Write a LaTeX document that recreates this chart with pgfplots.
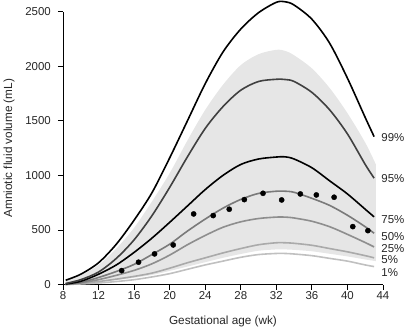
\documentclass[border=0pt]{standalone}
\usepackage{pgfplots}
\pgfplotsset{compat=1.18}
\usepgfplotslibrary{fillbetween}
\usepackage{fontspec}
\setmainfont{Liberation Sans}
\definecolor{band}{HTML}{E6E6E6}
\definecolor{c95}{HTML}{404040}
\definecolor{c50}{HTML}{7A7A7A}
\definecolor{c25}{HTML}{8E8E8E}
\definecolor{c5}{HTML}{AAAAAA}
\definecolor{c1}{HTML}{C0C0C0}
\begin{document}
\begin{tikzpicture}
\begin{axis}[
  scale only axis, width=320bp, height=273bp,
  xmin=8, xmax=44, ymin=0, ymax=2500,
  axis lines=left, axis line style={-, line width=0.8bp},
  clip=false,
  xtick={8,12,...,44}, ytick={0,500,...,2500},
  tick align=outside, major tick length=5bp,
  tick style={black, line width=0.8bp},
  /pgf/number format/assume math mode=true,
  /pgf/number format/1000 sep={},
  ticklabel style={font=\fontsize{11.5}{13}\selectfont, text=black!85, inner sep=0pt},
  xticklabel style={anchor=north, yshift=-2bp},
  yticklabel style={anchor=east, xshift=-7bp},
  xlabel={Gestational age (wk)},
  ylabel={Amniotic fluid volume (mL)},
  xlabel style={font=\fontsize{11.8}{13}\selectfont, text=black!85, inner sep=0pt,
     at={(axis description cs:0.5,0)}, anchor=north, yshift=-31bp},
  ylabel style={font=\fontsize{11.8}{13}\selectfont, text=black!85, inner sep=0pt,
     at={(axis description cs:0,0.5)}, anchor=center, yshift=54bp},
]
% shaded band
\addplot[name path=up, draw=none, smooth] coordinates {
(8.3,35) (10,85) (12,180) (14,330) (16,520) (18,760) (20,1020) (22,1320) (24,1600) (26,1830) (28,2010) (30,2110) (32,2150) (33,2140) (34,2100) (36,1980) (38,1800) (40,1570) (42,1300) (43.2,1100)};
\addplot[name path=lo, draw=none, smooth] coordinates {
(8.3,0) (10,8) (12,22) (14,40) (16,62) (18,88) (20,125) (22,165) (24,205) (26,245) (28,280) (30,310) (32,322) (33,322) (34,318) (36,305) (38,282) (40,258) (42,230) (43.2,215)};
\addplot[band, draw=none] fill between[of=up and lo];
% 1%
\addplot[c1, line width=1.6bp, smooth] coordinates {
(8.3,1) (10,6) (12,15) (14,28) (16,45) (18,70) (20,100) (22,140) (24,180) (26,215) (28,250) (30,275) (32,285) (33,285) (34,280) (36,265) (38,240) (40,215) (42,180) (43,165)};
% 5%
\addplot[c5, line width=1.6bp, smooth] coordinates {
(8.3,1) (10,10) (12,28) (14,50) (16,75) (18,105) (20,150) (22,200) (24,245) (26,290) (28,330) (30,365) (32,383) (33,383) (34,378) (36,360) (38,330) (40,300) (42,265) (43,245)};
% 25%
\addplot[c25, line width=1.6bp, smooth] coordinates {
(8.3,2) (10,15) (12,45) (14,85) (16,130) (18,190) (20,270) (22,365) (24,450) (26,525) (28,575) (30,605) (32,618) (33,618) (34,610) (36,580) (38,530) (40,460) (42,385) (43,345)};
% 50%
\addplot[c50, line width=1.6bp, smooth] coordinates {
(8.3,3) (10,20) (12,65) (14,120) (16,185) (18,275) (20,370) (22,490) (24,600) (26,700) (28,780) (30,835) (32,855) (33,855) (34,845) (36,790) (38,725) (40,635) (42,530) (43,470)};
% 75%
\addplot[black, line width=1.6bp, smooth] coordinates {
(8.3,5) (10,30) (12,95) (14,180) (16,295) (18,425) (20,570) (22,720) (24,870) (26,1000) (28,1100) (30,1150) (32,1168) (33,1170) (34,1150) (36,1070) (38,950) (40,830) (42,690) (43,620)};
% 95%
\addplot[c95, line width=1.6bp, smooth] coordinates {
(8.3,10) (10,45) (12,115) (14,240) (16,410) (18,630) (20,890) (22,1170) (24,1430) (26,1630) (28,1780) (30,1860) (32,1880) (33,1878) (34,1860) (36,1760) (38,1600) (40,1380) (42,1100) (43,975)};
% 99%
\addplot[black, line width=1.6bp, smooth] coordinates {
(8.3,40) (10,95) (12,200) (14,370) (16,590) (18,840) (20,1160) (22,1500) (24,1840) (26,2130) (28,2340) (30,2490) (32,2585) (33,2590) (34,2560) (36,2430) (38,2210) (40,1890) (42,1530) (43,1355)};
% data points
\addplot[only marks, mark=*, mark size=2.6bp, black] coordinates {
(14.6,128) (16.5,205) (18.3,281) (20.4,363) (22.7,647) (24.9,632) (26.7,690) (28.4,778) (30.5,836) (32.6,775) (34.7,830) (36.5,821) (38.5,800) (40.6,531) (42.3,494)};
% labels
\begin{scope}[every node/.style={anchor=west, font=\fontsize{11.5}{13}\selectfont, text=black!85, inner sep=0pt}]
\node at (axis cs:43.8,1346) {99\%};
\node at (axis cs:43.8,972) {95\%};
\node at (axis cs:43.8,595) {75\%};
\node at (axis cs:43.8,440) {50\%};
\node at (axis cs:43.8,330) {25\%};
\node at (axis cs:43.8,229) {5\%};
\node at (axis cs:43.8,110) {1\%};
\end{scope}
\end{axis}
\path (current axis.south west) ++(-63bp,-47bp) rectangle ++(405bp,331bp);
\end{tikzpicture}
\end{document}
